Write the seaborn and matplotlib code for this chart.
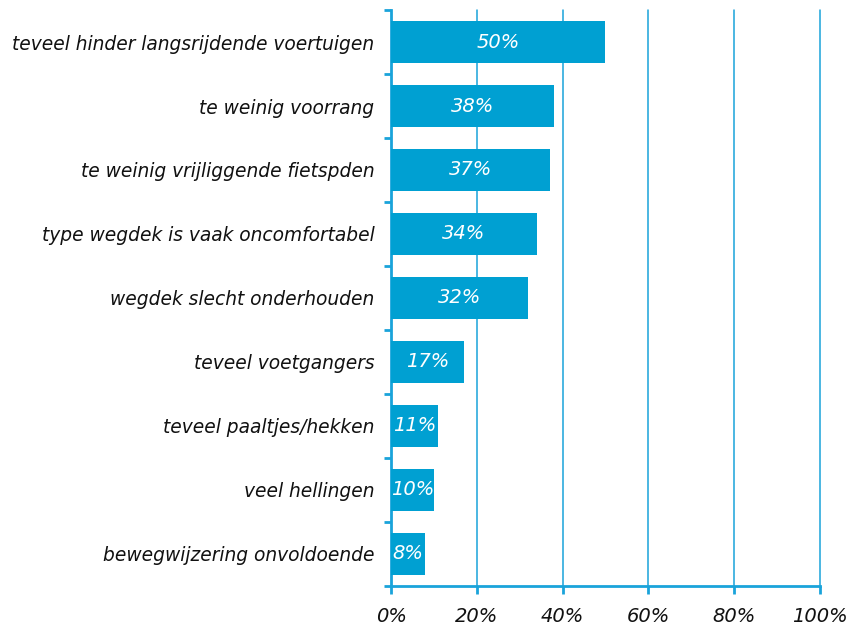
import numpy as np
import pandas as pd
import seaborn as sns
import matplotlib.pyplot as plt
from matplotlib.ticker import FixedLocator

plt.switch_backend('Agg')

# data
reasons = [
    "teveel hinder langsrijdende voertuigen",
    "te weinig voorrang",
    "te weinig vrijliggende fietspden",
    "type wegdek is vaak oncomfortabel",
    "wegdek slecht onderhouden",
    "teveel voetgangers",
    "teveel paaltjes/hekken",
    "veel hellingen",
    "bewegwijzering onvoldoende",
]
percentages = [50, 38, 37, 34, 32, 17, 11, 10, 8]
x_ticks = [0, 20, 40, 60, 80, 100]

bar_color = "#00A0D2"
line_color = "#1AA3DA"

df = pd.DataFrame({"reason": reasons, "pct": percentages})

sns.set_style("white")
plt.rcParams['font.family'] = ['DejaVu Sans']

fig = plt.figure(figsize=(8.51, 6.26), dpi=100)
ax = fig.add_axes([0.4595, 0.064, 0.504, 0.920])

sns.barplot(data=df, x="pct", y="reason", orient="h", color=bar_color,
            saturation=1, width=0.67, linewidth=0, ax=ax, zorder=3)

# value labels inside bars
for i, v in enumerate(percentages):
    ax.text(v / 2, i, f"{v}%", color="white", ha="center", va="center",
            fontsize=14, style="italic", zorder=4)

ax.set_xlim(0, 100)
ax.set_ylim(len(reasons) - 0.5, -0.5)
ax.set_xticks(x_ticks)
ax.set_xticklabels([f"{t}%" for t in x_ticks], fontsize=14, style="italic",
                   color="#111111")
ax.set_yticks(range(len(reasons)))
ax.set_yticklabels(reasons, fontsize=13.4, style="italic", color="#111111")
ax.set_xlabel("")
ax.set_ylabel("")

# vertical gridlines
for t in x_ticks[1:]:
    ax.axvline(t, color=line_color, lw=1.1, zorder=1, clip_on=False)

for s in ["top", "right"]:
    ax.spines[s].set_visible(False)
for s in ["left", "bottom"]:
    ax.spines[s].set_color(line_color)
    ax.spines[s].set_linewidth(2)

# y axis: no ticks at labels, small ticks at category boundaries
ax.tick_params(axis="y", which="major", left=True, length=0, pad=12)
ax.yaxis.set_minor_locator(FixedLocator(np.arange(-0.5, len(reasons), 1)))
ax.tick_params(axis="y", which="minor", left=True, length=5, width=2,
               color=line_color, direction="out")
ax.tick_params(axis="x", which="major", bottom=True, length=6, width=2,
               color=line_color, direction="out", pad=9)

fig.savefig("out.png", dpi=100)
